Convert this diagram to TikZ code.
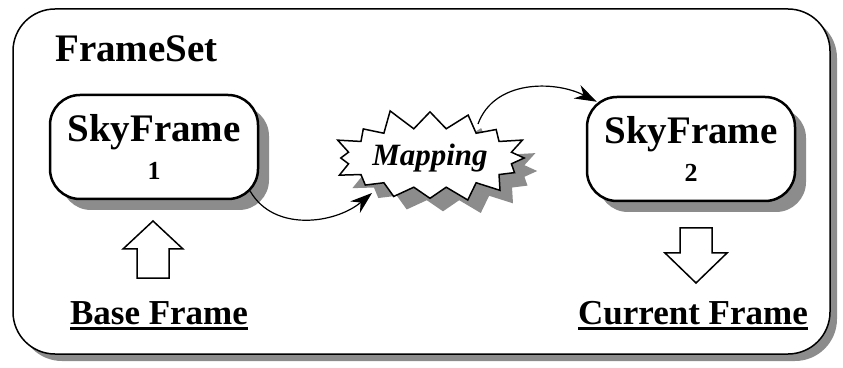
\documentclass[tikz,border=0pt]{standalone}
\usepackage{fontspec}
\setmainfont{Liberation Serif}
\usetikzlibrary{positioning,shapes.symbols,shadows,arrows.meta}

\newcommand\labelline[1]{\vtop{\hbox{#1}\kern3pt\hrule height 2.5pt}}

\begin{document}
\begin{tikzpicture}[x=1pt,y=1pt,every node/.style={inner sep=0pt},
  grayshadow/.style={drop shadow={shadow xshift=#1, shadow yshift=-#1, opacity=1, fill=black!45}},
  outerbox/.style={draw, line width=1.5pt, fill=white, rounded corners=42pt, grayshadow=7pt},
  skybox/.style={draw, line width=2.5pt, fill=white, rounded corners=30pt, minimum width=208pt, minimum height=104pt, align=center, font=\fontsize{39}{38}\selectfont\bfseries, grayshadow=11pt},
  mapstar/.style={starburst, draw, line width=1.5pt, fill=white, starburst points=16, starburst point height=22pt, random starburst=11, inner xsep=1pt, inner ysep=7pt, font=\fontsize{31}{31}\selectfont\bfseries\itshape, grayshadow=13pt},
  flow/.style={line width=1.2pt, -{Stealth[length=22pt,width=15pt]}},
  blockarrow/.style={draw, line width=1.5pt, fill=white},
  tag/.style={anchor=base, font=\fontsize{35}{40}\selectfont\bfseries}]
\useasboundingbox (0,0) rectangle (843,367);
\path[outerbox] (13,358) rectangle (830,13);
\node[anchor=base west, font=\fontsize{39}{40}\selectfont\bfseries] (title) at (55,305) {FrameSet};

\node[skybox] (sky1) at (154,220) {SkyFrame\\{\fontsize{26}{26}\selectfont 1}};
\node[skybox] (sky2) at (691,218) {SkyFrame\\{\fontsize{26}{26}\selectfont 2}};
\node[mapstar] (map) at (430,209) {Mapping};

\draw[flow] ([shift={(-9,9)}]sky1.south east) to[out=-60,in=-140] ([shift={(-58,-35)}]map.center);
\draw[flow] ([shift={(48,34)}]map.center) to[out=70,in=153] ([shift={(11,-6)}]sky2.north west);

\draw[blockarrow] (153,146) -- (183,118) -- (169,118) -- (169,89) -- (137,89) -- (137,118) -- (123,118) -- cycle;
\draw[blockarrow] (696,84) -- (727,114) -- (712,114) -- (712,139) -- (680,139) -- (680,114) -- (665,114) -- cycle;

\node[tag] (base) at (159,43) {\labelline{Base Frame}};
\node[tag] (current) at (693,43) {\labelline{Current Frame}};
\end{tikzpicture}
\end{document}
